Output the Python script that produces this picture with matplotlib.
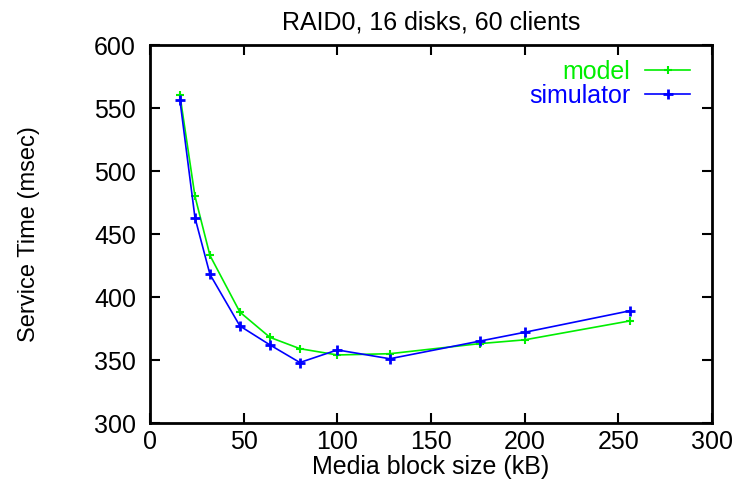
import numpy as np
import matplotlib
matplotlib.use("Agg")
import matplotlib.pyplot as plt

# block sizes (kB)
block_size = [16, 24, 32, 48, 64, 80, 100, 128, 176, 200, 256]

# service time (msec)
model = [560, 480, 433, 388, 368, 359, 354, 355, 363, 366, 381]
simulator = [556, 463, 418, 377, 362, 348, 358, 351, 365, 372, 389]

plt.rcParams['font.family'] = ['Liberation Sans', 'DejaVu Sans']

fig = plt.figure(figsize=(7.36, 4.82), dpi=100)
ax = fig.add_axes([0.2038, 0.1224, 0.7636, 0.7842])

ax.plot(block_size, model, color='#00ee00', linestyle='-', linewidth=1.2,
        marker='+', markersize=6, markeredgewidth=1.5, label='model')
ax.plot(block_size, simulator, color='#0000ff', linestyle='-', linewidth=1.2,
        marker='+', markersize=7, markeredgewidth=2, label='simulator')

ax.set_xlim(0, 300)
ax.set_ylim(300, 600)
ax.set_xticks(np.arange(0, 301, 50))
ax.set_yticks(np.arange(300, 601, 50))
ax.tick_params(direction='in', top=True, right=True, length=7, width=1.5,
               labelsize=18)
ax.tick_params(axis='x', pad=5)
ax.tick_params(axis='y', pad=10)
for s in ax.spines.values():
    s.set_linewidth(2)

ax.set_title('RAID0, 16 disks, 60 clients', fontsize=18, pad=11)
ax.set_xlabel('Media block size (kB)', fontsize=18, labelpad=1)
ax.set_ylabel('Service Time (msec)', fontsize=17)
ax.yaxis.set_label_coords(-0.196, 0.5)

leg = ax.legend(loc='upper right', bbox_to_anchor=(0.961, 0.960),
                frameon=False, markerfirst=False, fontsize=18,
                handlelength=1.8, handletextpad=0.6, labelspacing=0.0,
                borderpad=0, borderaxespad=0)
for txt, c in zip(leg.get_texts(), ['#00ee00', '#0000ff']):
    txt.set_color(c)

fig.savefig('out.png', dpi=100)
